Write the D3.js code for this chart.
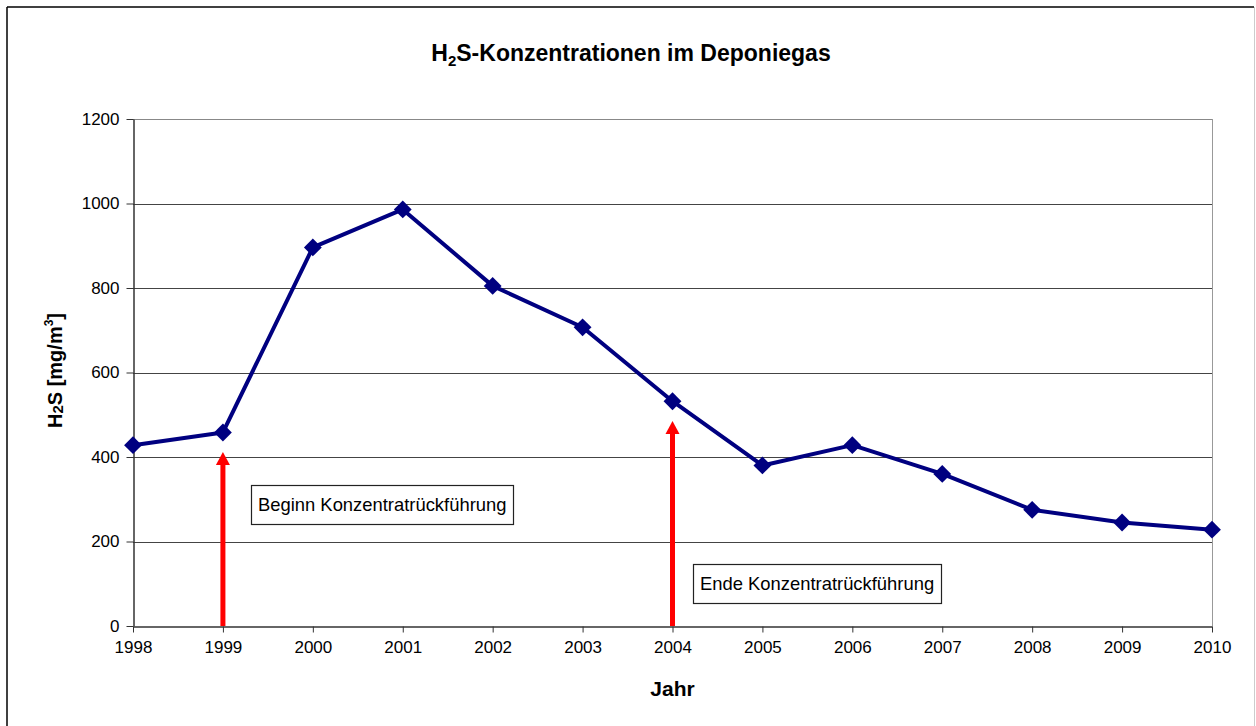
<!DOCTYPE html>
<html>
<head>
<meta charset="utf-8">
<script src="https://cdn.jsdelivr.net/npm/d3@7"></script>
<style>
  body { margin: 0; background: #fff; }
  text { font-family: Arial, "Liberation Sans", sans-serif; }
</style>
</head>
<body>
<div id="chart"></div>
<script>
const width = 1256;
const height = 726;
const margin = { top: 119, right: 44, bottom: 100, left: 133 };

const years = [1998, 1999, 2000, 2001, 2002, 2003, 2004, 2005, 2006, 2007, 2008, 2009, 2010];
const h2s = [428, 458, 896, 986, 805, 707, 532, 380, 428, 360, 275, 245, 228];
const yTicks = [0, 200, 400, 600, 800, 1000, 1200];

// arrows + boxes (year, arrow tip value, box anchor)
const events = [
  { year: 1999, tip: 412, label: "Beginn Konzentratrückführung", atYear: 1999.31, atValue: 334 },
  { year: 2004, tip: 485, label: "Ende Konzentratrückführung", atYear: 2004.23, atValue: 147 }
];

const svg = d3.select("#chart")
    .append("svg")
    .attr("width", width)
    .attr("height", height);

// outer frame
svg.append("line").attr("x1", 7).attr("y1", 7).attr("x2", 1254).attr("y2", 7)
    .attr("stroke", "#000").attr("stroke-width", 1.5);
svg.append("line").attr("x1", 7).attr("y1", 7).attr("x2", 7).attr("y2", height)
    .attr("stroke", "#000").attr("stroke-width", 1.5);
svg.append("line").attr("x1", 1254.5).attr("y1", 7).attr("x2", 1254.5).attr("y2", height)
    .attr("stroke", "#ccc").attr("stroke-width", 1);

const x = d3.scaleLinear()
    .domain([1998, 2010])
    .range([margin.left, width - margin.right]);

const y = d3.scaleLinear()
    .domain([0, 1200])
    .range([height - margin.bottom, margin.top]);

// gridlines
svg.append("g")
    .selectAll("line")
    .data(yTicks.filter(d => d > 0))
    .enter()
    .append("line")
    .attr("x1", x(1998)).attr("x2", x(2010))
    .attr("y1", d => Math.round(y(d)) + 0.5).attr("y2", d => Math.round(y(d)) + 0.5)
    .attr("stroke", d => d === 1200 ? "#888" : "#444")
    .attr("stroke-width", 1);

// right plot border
svg.append("line")
    .attr("x1", x(2010) + 0.5).attr("x2", x(2010) + 0.5)
    .attr("y1", y(1200)).attr("y2", y(0))
    .attr("stroke", "#999");

const yAxis = d3.axisLeft(y)
    .tickValues(yTicks)
    .tickFormat(d3.format("d"))
    .tickSize(7)
    .tickSizeOuter(0)
    .tickPadding(7);

const yAxisG = svg.append("g")
    .attr("transform", `translate(${x(1998) + 0.5},0)`)
    .call(yAxis);

const xAxis = d3.axisBottom(x)
    .tickValues(years)
    .tickFormat(d3.format("d"))
    .tickSize(6)
    .tickSizeOuter(0)
    .tickPadding(8);

const xAxisG = svg.append("g")
    .attr("transform", `translate(0,${Math.round(y(0)) + 0.5})`)
    .call(xAxis);

[yAxisG, xAxisG].forEach(g => {
    g.select(".domain").attr("stroke", "#333").attr("stroke-width", 1.5);
    g.selectAll("line").attr("stroke", "#333");
    g.selectAll("text")
        .attr("fill", "#000")
        .attr("font-size", "17px")
        .attr("font-family", "Arial, 'Liberation Sans', sans-serif");
});

// red arrows
events.forEach(ev => {
    const ax = x(ev.year);
    const tipY = y(ev.tip);
    svg.append("rect")
        .attr("x", ax - 2.5).attr("y", tipY + 12)
        .attr("width", 5).attr("height", y(0) - tipY - 12)
        .attr("fill", "#ff0000");
    svg.append("path")
        .attr("d", `M${ax},${tipY} L${ax - 7},${tipY + 13} L${ax + 7},${tipY + 13} Z`)
        .attr("fill", "#ff0000");
});

// data line
const line = d3.line()
    .x((d, i) => x(years[i]))
    .y(d => y(d));

svg.append("path")
    .datum(h2s)
    .attr("d", line)
    .attr("fill", "none")
    .attr("stroke", "#000080")
    .attr("stroke-width", 4)
    .attr("stroke-linejoin", "round");

svg.append("g")
    .selectAll("path")
    .data(h2s)
    .enter()
    .append("path")
    .attr("transform", (d, i) => `translate(${x(years[i])},${y(d)}) rotate(45)`)
    .attr("d", "M-6.3,-6.3 L6.3,-6.3 L6.3,6.3 L-6.3,6.3 Z")
    .attr("fill", "#000080");

// annotation boxes
events.forEach(ev => {
    const bx = Math.round(x(ev.atYear));
    const by = Math.round(y(ev.atValue));
    const g = svg.append("g").attr("transform", `translate(${bx},${by})`);
    const t = g.append("text")
        .attr("x", 7).attr("y", 26)
        .attr("font-size", "18.4px")
        .attr("fill", "#000")
        .text(ev.label);
    const w = t.node().getComputedTextLength();
    g.insert("rect", "text")
        .attr("x", 0.5).attr("y", 0.5)
        .attr("width", Math.round(w + 14)).attr("height", 39)
        .attr("fill", "#fff")
        .attr("stroke", "#222")
        .attr("stroke-width", 1.2);
});

// title
const title = svg.append("text")
    .attr("x", 631).attr("y", 61)
    .attr("text-anchor", "middle")
    .attr("font-size", "23px")
    .attr("font-weight", "bold");
title.append("tspan").text("H");
title.append("tspan").attr("font-size", "15px").attr("dy", 5).text("2");
title.append("tspan").attr("dy", -5).text("S-Konzentrationen im Deponiegas");

// y label
const yLabel = svg.append("text")
    .attr("transform", `translate(62,${y(600) - 2}) rotate(-90)`)
    .attr("text-anchor", "middle")
    .attr("font-size", "20px")
    .attr("font-weight", "bold");
yLabel.append("tspan").text("H");
yLabel.append("tspan").attr("font-size", "15px").attr("dy", 1).text("2");
yLabel.append("tspan").attr("dy", -1).text("S [mg/m");
yLabel.append("tspan").attr("font-size", "12px").attr("dy", -9).text("3");
yLabel.append("tspan").attr("dy", 9).text("]");

// x label
svg.append("text")
    .attr("x", x(2004)).attr("y", 696)
    .attr("text-anchor", "middle")
    .attr("font-size", "21px")
    .attr("font-weight", "bold")
    .text("Jahr");
</script>
</body>
</html>
